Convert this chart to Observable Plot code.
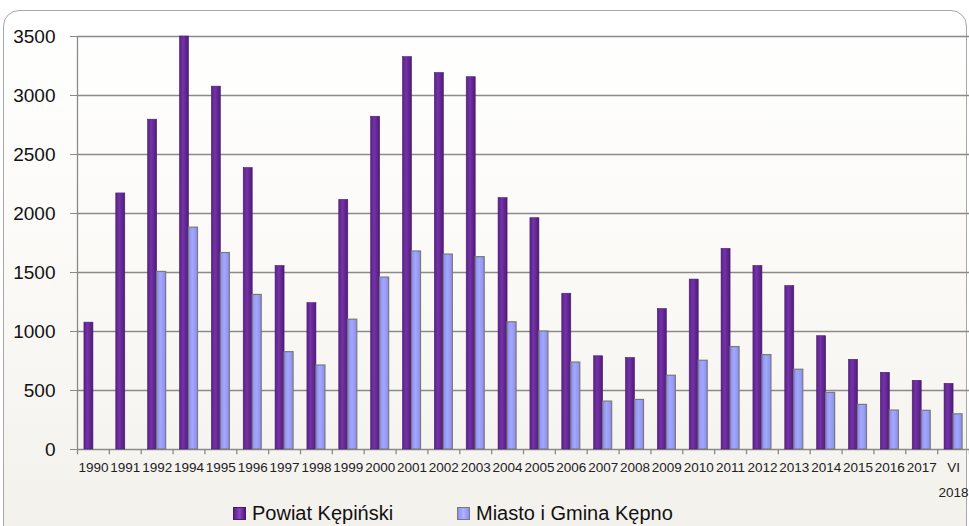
<!DOCTYPE html>
<html>
<head>
<meta charset="utf-8">
<script src="https://cdn.jsdelivr.net/npm/d3@7"></script>
<script src="https://cdn.jsdelivr.net/npm/@observablehq/plot@0.6"></script>
<style>
  html, body { margin: 0; padding: 0; background: #fff; }
  #wrap { position: relative; width: 969px; height: 526px; overflow: hidden; background: #fff; font-family: "Liberation Sans", Arial, sans-serif; }
  #frame { position: absolute; left: 3px; top: 10px; width: 964px; height: 620px; border: 1.5px solid #a8a8a8; border-radius: 16px;
           background: linear-gradient(to bottom, #ffffff 0%, #faf9f6 45%, #f1eee8 100%); box-sizing: border-box; }
  #chart { position: absolute; left: 0; top: 0; }
  #chart svg { background: transparent; overflow: visible; }
  #legend { position: absolute; left: 0; top: 502px; width: 969px; height: 24px; font-size: 20px; color: #111; }
  .item { position: absolute; top: 0; display: flex; align-items: center; }
  .sw { width: 13px; height: 13px; margin-right: 6px; box-sizing: border-box; }
</style>
</head>
<body>
<div id="wrap">
  <div id="frame"></div>
  <div id="chart"></div>
  <div id="legend"></div>
</div>
<script>
const categories = ["1990","1991","1992","1994","1995","1996","1997","1998","1999","2000","2001","2002","2003","2004","2005","2006","2007","2008","2009","2010","2011","2012","2013","2014","2015","2016","2017","VI\n2018"];
const powiatKepinski = [1075, 2170, 2795, 3500, 3075, 2385, 1555, 1240, 2115, 2820, 3325, 3190, 3155, 2130, 1960, 1320, 790, 775, 1190, 1440, 1700, 1555, 1385, 960, 760, 650, 582, 556];
const miastoGminaKepno = [0, 0, 1505, 1880, 1665, 1310, 825, 712, 1100, 1457, 1678, 1652, 1630, 1078, 1000, 737, 406, 420, 625, 752, 868, 800, 676, 480, 378, 330, 328, 298];
const yTicks = [0, 500, 1000, 1500, 2000, 2500, 3000, 3500];
const seriesNames = ["Powiat Kępiński", "Miasto i Gmina Kępno"];

const rows = categories.map((c, i) => ({cat: c, p: powiatKepinski[i], m: miastoGminaKepno[i]}));

const W = 969, H = 500, ML = 77, MR = 0;
const step = (W - ML - MR) / categories.length;
const half = step / 2, bw = 9;

const plot = Plot.plot({
  width: W,
  height: H,
  marginTop: 36,
  marginBottom: 51,
  marginLeft: ML,
  marginRight: MR,
  style: {background: "transparent", fontFamily: "'Liberation Sans', Arial, sans-serif"},
  x: {domain: categories, padding: 0, round: false, axis: null},
  y: {domain: [0, 3500], axis: null},
  marks: [
    Plot.ruleY(yTicks, {y: d => d, stroke: "#8a8a8a", strokeWidth: 1.3}),
    Plot.axisY({ticks: yTicks, tickSize: 7, tickPadding: 15, fontSize: 19, stroke: "#8a8a8a", fill: "#111", tickFormat: d => String(d)}),
    Plot.ruleX([categories[0]], {x: d => d, dx: -half, y1: 0, y2: 3500, stroke: "#8a8a8a", strokeWidth: 1.3}),
    Plot.ruleX(categories, {x: d => d, dx: -half, y1: 0, y2: -45, stroke: "#8a8a8a", strokeWidth: 1.3}),
    Plot.ruleX([categories[categories.length - 1]], {x: d => d, dx: half, y1: 0, y2: -45, stroke: "#8a8a8a", strokeWidth: 1.3}),
    Plot.barY(rows, {x: "cat", y: "p", insetLeft: half - bw, insetRight: half, fill: "url(#gradP)", stroke: "#4a1a72", strokeWidth: 0.6}),
    Plot.barY(rows, {filter: d => d.m > 0, x: "cat", y: "m", insetLeft: half, insetRight: half - bw, fill: "url(#gradM)", stroke: "#7a7a7a", strokeWidth: 1.2}),
    Plot.text(categories, {x: d => d, y: 0, dy: 4, text: d => d, lineAnchor: "top", lineHeight: 1.9, fontSize: 13.5, fill: "#222"})
  ]
});

const svg = d3.select(plot);
const defs = svg.insert("defs", ":first-child");
const gp = defs.append("linearGradient").attr("id", "gradP").attr("x1", "0").attr("x2", "1").attr("y1", "0").attr("y2", "0");
gp.append("stop").attr("offset", "0%").attr("stop-color", "#5a2188");
gp.append("stop").attr("offset", "40%").attr("stop-color", "#7433a6");
gp.append("stop").attr("offset", "100%").attr("stop-color", "#4e1b7a");
const gm = defs.append("linearGradient").attr("id", "gradM").attr("x1", "0").attr("x2", "1").attr("y1", "0").attr("y2", "0");
gm.append("stop").attr("offset", "0%").attr("stop-color", "#8b8ff0");
gm.append("stop").attr("offset", "45%").attr("stop-color", "#a4a7ff");
gm.append("stop").attr("offset", "100%").attr("stop-color", "#8a8eee");

document.getElementById("chart").appendChild(plot);

const legend = document.getElementById("legend");
const legendItems = [
  {name: seriesNames[0], left: 233, sw: "linear-gradient(to right, #5a2188, #8a45c0, #4e1b7a)", border: "#4a1a72"},
  {name: seriesNames[1], left: 457, sw: "linear-gradient(to right, #8b8ff0, #b0b3ff, #8a8eee)", border: "#7a7a7a"}
];
legendItems.forEach(it => {
  const d = document.createElement("div");
  d.className = "item";
  d.style.left = it.left + "px";
  const s = document.createElement("div");
  s.className = "sw";
  s.style.background = it.sw;
  s.style.border = "1px solid " + it.border;
  const t = document.createElement("span");
  t.textContent = it.name;
  d.appendChild(s);
  d.appendChild(t);
  legend.appendChild(d);
});
</script>
</body>
</html>
